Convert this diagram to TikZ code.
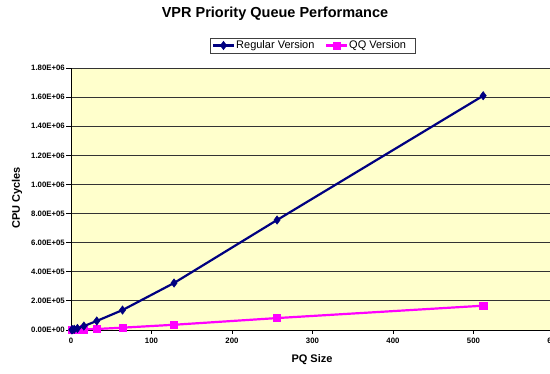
\documentclass[tikz,border=0pt]{standalone}
\usepackage{fontspec}
\setmainfont{Liberation Sans}
\usetikzlibrary{plotmarks}
\definecolor{plotbg}{HTML}{FFFFCC}
\definecolor{regblue}{HTML}{000080}
\definecolor{qqpink}{HTML}{FF00FF}

\begin{document}
\begin{tikzpicture}[x=1pt, y=1pt,
    ticklabel/.style={font=\bfseries\fontsize{7.8}{8}\selectfont, inner sep=1pt},
    axislabel/.style={font=\bfseries\fontsize{11}{12}\selectfont},
    regline/.style={regblue, line width=2.2pt, mark=diamond*, mark size=4.2pt,
      mark options={fill=regblue, line width=0.5pt}},
    qqline/.style={qqpink, line width=2.2pt, mark=square*, mark size=3.6pt,
      mark options={fill=qqpink, line width=0.5pt}}]
  \useasboundingbox (0,0) rectangle (550,373);
  \clip (0,0) rectangle (550,373);
  \node (title) at (275,359) {\bfseries\fontsize{14.5}{16}\selectfont VPR Priority Queue Performance};
  % legend
  \draw [black!75, fill=white, line width=0.8pt] (210,320) rectangle (415,335);
  \draw [regline, mark indices={2}] plot coordinates {(213,327.5) (223.5,327.5) (234,327.5)};
  \node [anchor=west, inner sep=1pt, font=\fontsize{11}{12}\selectfont] (regkey) at (235,327.5) {Regular Version};
  \draw [qqline, mark indices={2}] plot coordinates {(326,327.5) (336.5,327.5) (347,327.5)};
  \node [anchor=west, inner sep=1pt, font=\fontsize{11}{12}\selectfont] (qqkey) at (348,327.5) {QQ Version};
  \node [axislabel, rotate=90] (ylabel) at (17,175) {CPU Cycles};
  \node [axislabel] (xlabel) at (312,13) {PQ Size};
  \begin{scope}[shift={(71pt,43pt)}, x=0.805pt, y=14.55pt]
    \fill [plotbg] (0,0) rectangle (600,18);
    \foreach \v/\lab in {0/0.00E+00, 2/2.00E+05, 4/4.00E+05, 6/6.00E+05, 8/8.00E+05,
      10/1.00E+06, 12/1.20E+06, 14/1.40E+06, 16/1.60E+06, 18/1.80E+06} {
      \draw [black!80, line width=0.8pt] (0,\v) -- (600,\v);
      \draw [black, line width=0.8pt] (0,\v) -- ++(-5pt,0);
      \node [ticklabel, anchor=east] (ytick\v) at ([xshift=-5pt]0,\v) {\lab};
    }
    \foreach \s in {0,100,...,600} {
      \draw [black, line width=0.8pt] (\s,0) -- ++(0,-4pt);
      \node [ticklabel, anchor=north] (xtick\s) at ([yshift=-7pt]\s,0) {\s};
    }
    \draw [black, line width=0.8pt] (0,0) -- (0,18);
    \draw [black, line width=0.8pt] (0,0) -- (600,0);
    \draw [qqline] plot coordinates {(1,0.01) (2,0.015) (4,0.02) (8,0.03) (16,0.05)
      (32,0.07) (64,0.16) (128,0.36) (256,0.82) (512,1.67)};
    \draw [regline] plot coordinates {(1,0.01) (2,0.02) (4,0.05) (8,0.11) (16,0.27)
      (32,0.62) (64,1.37) (128,3.23) (256,7.56) (512,16.1)};
  \end{scope}
\end{tikzpicture}
\end{document}
